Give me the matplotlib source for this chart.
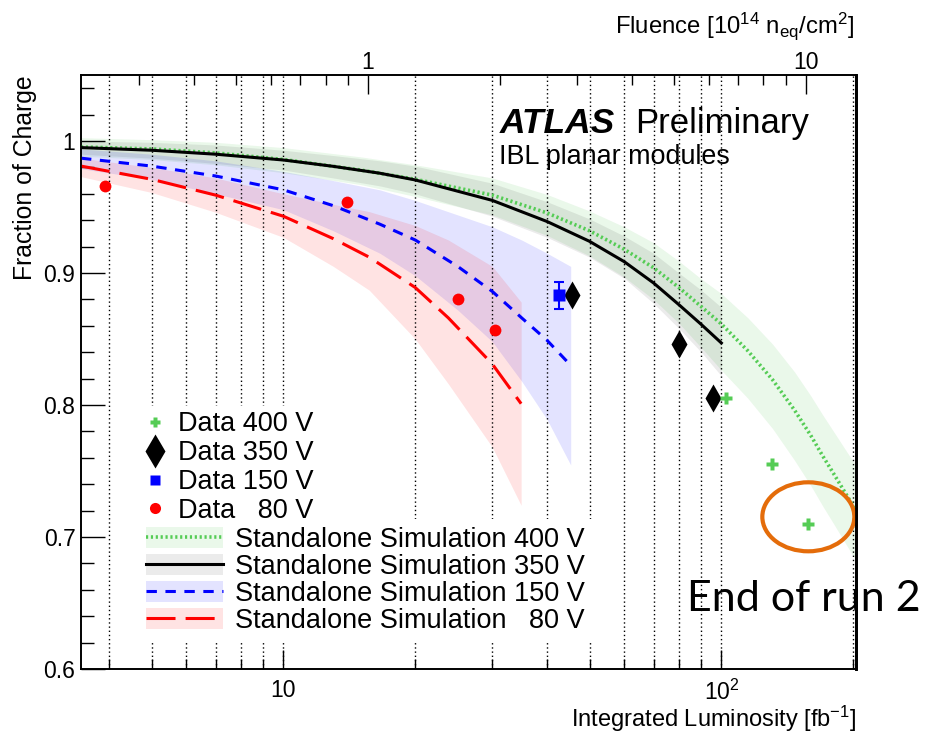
import matplotlib
matplotlib.use("Agg")
import matplotlib.pyplot as plt
from matplotlib.lines import Line2D
from matplotlib.patches import Patch, Ellipse
from matplotlib.ticker import FixedLocator, NullFormatter, MultipleLocator, LogLocator
from matplotlib.transforms import IdentityTransform

plt.rcParams['font.family'] = ['Liberation Sans', 'DejaVu Sans']
plt.rcParams['mathtext.fontset'] = 'custom'
plt.rcParams['mathtext.rm'] = 'Liberation Sans'
plt.rcParams['mathtext.it'] = 'Liberation Sans:italic'
plt.rcParams['mathtext.bf'] = 'Liberation Sans:bold'

# ---- data ----
# luminosity [fb^-1] per fluence unit [1e14 neq/cm2] (top axis)
lumi_per_fluence = 15.6

# measured points
data80_lumi = [3.91, 14.0, 25.0, 30.4]
data80_frac = [0.966, 0.954, 0.880, 0.857]
data150_lumi = [42.6]
data150_frac = [0.883]
data150_err = [0.010]
data350_lumi = [45.6, 79.9, 95.7]
data350_frac = [0.883, 0.846, 0.805]
data400_lumi = [102.3, 130.5, 158.0]
data400_frac = [0.805, 0.755, 0.710]

# standalone simulation: central value and band edges
sim400_lumi = [3.45, 5, 7, 10, 15, 20, 30, 40, 50, 60, 70, 80, 90, 100, 115, 131, 147, 160, 170, 182, 193, 203]
sim400_mid = [0.9955, 0.994, 0.991, 0.986, 0.978, 0.971, 0.959, 0.9455, 0.932, 0.918, 0.904, 0.889,
              0.8745, 0.8614, 0.841, 0.819, 0.796, 0.777, 0.762, 0.746, 0.732, 0.720]
sim400_up = [1.0025, 1.001, 0.999, 0.995, 0.988, 0.982, 0.972, 0.9595, 0.947, 0.935, 0.923, 0.909,
             0.8955, 0.8844, 0.866, 0.846, 0.825, 0.807, 0.793, 0.778, 0.765, 0.754]
sim400_lo = [0.9885, 0.986, 0.982, 0.976, 0.967, 0.958, 0.944, 0.9285, 0.913, 0.897, 0.880, 0.862,
             0.8435, 0.8264, 0.805, 0.782, 0.758, 0.739, 0.724, 0.708, 0.694, 0.682]

sim350_lumi = [3.45, 5, 7, 10, 13, 16.6, 20, 30, 40, 50, 60, 70, 80, 90, 100]
sim350_mid = [0.995, 0.993, 0.990, 0.9856, 0.9808, 0.9756, 0.9705, 0.955, 0.939, 0.924, 0.9086, 0.8925,
              0.876, 0.861, 0.847]
sim350_up = [1.000, 0.999, 0.997, 0.993, 0.989, 0.985, 0.981, 0.968, 0.954, 0.941, 0.928, 0.915,
             0.900, 0.887, 0.874]
sim350_lo = [0.990, 0.987, 0.983, 0.978, 0.972, 0.966, 0.960, 0.943, 0.927, 0.912, 0.896, 0.877,
             0.858, 0.840, 0.822]

sim150_lumi = [3.45, 5, 7, 10, 13, 16.6, 20, 25, 30, 35, 40, 45.3]
sim150_mid = [0.987, 0.981, 0.9735, 0.963, 0.951, 0.937, 0.925, 0.905, 0.886, 0.866, 0.849, 0.830]
sim150_up = [0.994, 0.990, 0.985, 0.977, 0.970, 0.963, 0.955, 0.944, 0.935, 0.925, 0.915, 0.905]
sim150_lo = [0.979, 0.971, 0.960, 0.948, 0.932, 0.915, 0.898, 0.872, 0.848, 0.818, 0.789, 0.7545]

sim80_lumi = [3.45, 5, 7, 10, 13, 15.7, 20, 23.8, 30, 34.9]
sim80_mid = [0.981, 0.971, 0.959, 0.943, 0.926, 0.912, 0.889, 0.866, 0.831, 0.801]
sim80_up = [0.987, 0.980, 0.972, 0.960, 0.952, 0.9465, 0.936, 0.925, 0.905, 0.878]
sim80_lo = [0.973, 0.961, 0.946, 0.927, 0.905, 0.887, 0.850, 0.816, 0.768, 0.724]

data_labels = ["Data 400 V", "Data 350 V", "Data 150 V", "Data   80 V"]
sim_labels = ["Standalone Simulation 400 V", "Standalone Simulation 350 V",
              "Standalone Simulation 150 V", "Standalone Simulation   80 V"]

green = '#55cc55'
dash_green = (0, (0.6, 0.75))
dash_blue = (0, (3.4, 2.8))
dash_red = (0, (9.5, 3.3))

fig = plt.figure(figsize=(9.27, 7.34), dpi=100)
ax = fig.add_axes([81 / 927, 1 - 669 / 734, 775 / 927, 594 / 734])
ax.set_xscale('log')
ax.set_xlim(3.45, 203)
ax.set_ylim(0.6, 1.05)
ax.set_axisbelow(False)

# bands
ax.fill_between(sim400_lumi, sim400_lo, sim400_up, color='#33bb33', alpha=0.10, lw=0, zorder=1)
ax.fill_between(sim350_lumi, sim350_lo, sim350_up, color='black', alpha=0.08, lw=0, zorder=1)
ax.fill_between(sim150_lumi, sim150_lo, sim150_up, color='blue', alpha=0.11, lw=0, zorder=1)
ax.fill_between(sim80_lumi, sim80_lo, sim80_up, color='red', alpha=0.11, lw=0, zorder=1)

# central curves
ax.plot(sim400_lumi, sim400_mid, color=green, lw=2.6, ls=dash_green, zorder=3)
ax.plot(sim350_lumi, sim350_mid, color='black', lw=2.2, zorder=3)
ax.plot(sim150_lumi, sim150_mid, color='blue', lw=2.2, ls=dash_blue, zorder=3)
ax.plot(sim80_lumi, sim80_mid, color='red', lw=2.2, ls=dash_red, zorder=3)

# data
ax.plot(data80_lumi, data80_frac, ls='none', marker='o', ms=8.5, color='red', mec='none', zorder=4)
ax.errorbar(data150_lumi, data150_frac, yerr=data150_err, fmt='s', ms=8, color='blue', mec='none',
            elinewidth=1.5, capsize=3.5, capthick=1.5, zorder=4)
ax.plot(data350_lumi, data350_frac, ls='none', marker='d', ms=14, color='black', mec='none', zorder=4)
ax.plot(data400_lumi, data400_frac, ls='none', marker='P', ms=9, color=green, mec='none', zorder=4)

# grid on the bottom axis ticks
ax.grid(True, which='both', axis='x', color='black', ls=(0, (1, 2)), lw=1.0)

# axes ticks
ax.xaxis.set_major_locator(FixedLocator([10, 100]))
ax.set_xticklabels(['10', '$10^{2}$'])
ax.xaxis.set_minor_locator(LogLocator(base=10, subs=range(2, 10)))
ax.xaxis.set_minor_formatter(NullFormatter())
ax.yaxis.set_major_locator(FixedLocator([0.6, 0.7, 0.8, 0.9, 1.0]))
ax.set_yticklabels(['0.6', '0.7', '0.8', '0.9', '1'])
ax.yaxis.set_minor_locator(MultipleLocator(0.02))
ax.tick_params(axis='both', which='both', direction='in', top=False, right=False, width=1.0, labelsize=16.5)
ax.tick_params(axis='y', which='major', length=17, pad=4)
ax.tick_params(axis='y', which='minor', length=9)
ax.tick_params(axis='x', which='major', length=14, pad=7.5)
ax.tick_params(axis='x', which='minor', length=7)
for s in ax.spines.values():
    s.set_linewidth(1.2)
ax.spines['right'].set_linewidth(2.0)

# top axis: fluence
ax2 = ax.twiny()
ax2.set_xscale('log')
ax2.set_xlim(3.45 / lumi_per_fluence, 203 / lumi_per_fluence)
ax2.xaxis.set_major_locator(FixedLocator([1, 10]))
ax2.set_xticklabels(['1', '10'])
ax2.xaxis.set_minor_locator(LogLocator(base=10, subs=range(2, 10)))
ax2.xaxis.set_minor_formatter(NullFormatter())
ax2.tick_params(axis='x', which='both', direction='in', width=1.0, labelsize=16.5)
ax2.tick_params(axis='x', which='major', length=14, pad=0.5)
ax2.tick_params(axis='x', which='minor', length=7)
for s in ax2.spines.values():
    s.set_linewidth(1.2)
ax2.spines['right'].set_linewidth(2.0)

# axis titles
fig.text(856 / 927, 1 - 727 / 734, 'Integrated Luminosity [fb$^{-1}$]', ha='right', va='baseline', fontsize=17)
fig.text(854 / 927, 1 - 33 / 734, 'Fluence [10$^{14}$ n$_{\\mathrm{eq}}$/cm$^{2}$]', ha='right', va='baseline', fontsize=17.2)
fig.text(25 / 927, 1 - 75 / 734, 'Fraction of Charge', rotation=90, ha='center', va='top', fontsize=17.8)

# ATLAS label
ax.text(0.5397, 0.9018, 'ATLAS', transform=ax.transAxes, fontsize=25.5, fontweight='bold',
        fontstyle='italic', va='baseline', zorder=6)
ax.text(0.7148, 0.9018, 'Preliminary', transform=ax.transAxes, fontsize=25, va='baseline', zorder=6)
ax.text(0.5397, 0.8497, 'IBL planar modules', transform=ax.transAxes, fontsize=19.4, va='baseline', zorder=6)

# legends
data_handles = [
    Line2D([], [], ls='none', marker='P', ms=7.5, color=green, mec='none'),
    Line2D([], [], ls='none', marker='d', ms=17, color='black', mec='none'),
    Line2D([], [], ls='none', marker='s', ms=7.5, color='blue', mec='none'),
    Line2D([], [], ls='none', marker='o', ms=8, color='red', mec='none'),
]
leg1 = ax.legend(data_handles, data_labels, loc='upper left', bbox_to_anchor=(136 / 927, 1 - 406 / 734),
                 bbox_transform=fig.transFigure, frameon=True, fancybox=False, framealpha=1,
                 edgecolor='none', facecolor='white', fontsize=19.5, borderpad=0.2, borderaxespad=0,
                 handlelength=1.0, handletextpad=0.35, labelspacing=0.105)
leg1.set_zorder(5)
ax.add_artist(leg1)

sim_handles = [
    (Patch(facecolor='#33bb33', alpha=0.10, lw=0), Line2D([], [], color=green, lw=2.6, ls=dash_green)),
    (Patch(facecolor='black', alpha=0.08, lw=0), Line2D([], [], color='black', lw=2.2)),
    (Patch(facecolor='blue', alpha=0.11, lw=0), Line2D([], [], color='blue', lw=2.2, ls=dash_blue)),
    (Patch(facecolor='red', alpha=0.11, lw=0), Line2D([], [], color='red', lw=2.2, ls=dash_red)),
]
leg2 = ax.legend(sim_handles, sim_labels, loc='upper left', bbox_to_anchor=(138 / 927, 1 - 519 / 734),
                 bbox_transform=fig.transFigure, frameon=True, fancybox=False, framealpha=1,
                 edgecolor='none', facecolor='white', fontsize=19.5, borderpad=0.28, borderaxespad=0,
                 handlelength=2.85, handleheight=0.8, handletextpad=0.45, labelspacing=0.045)
leg2.set_zorder(6)

# end of run 2 annotation around the last 400 V point
fig.canvas.draw()
cx, cy = ax.transData.transform((data400_lumi[-1], data400_frac[-1]))
ax.add_artist(Ellipse((cx, cy + 7), 92, 69, transform=IdentityTransform(), fill=False,
                      edgecolor='#e46c0a', lw=3.0, zorder=7))
ax.text(0.782, 0.0976, 'End of run 2', transform=ax.transAxes, fontsize=31, family='Lato',
        va='baseline', ha='left', zorder=7)

fig.savefig('out.png', dpi=100)
